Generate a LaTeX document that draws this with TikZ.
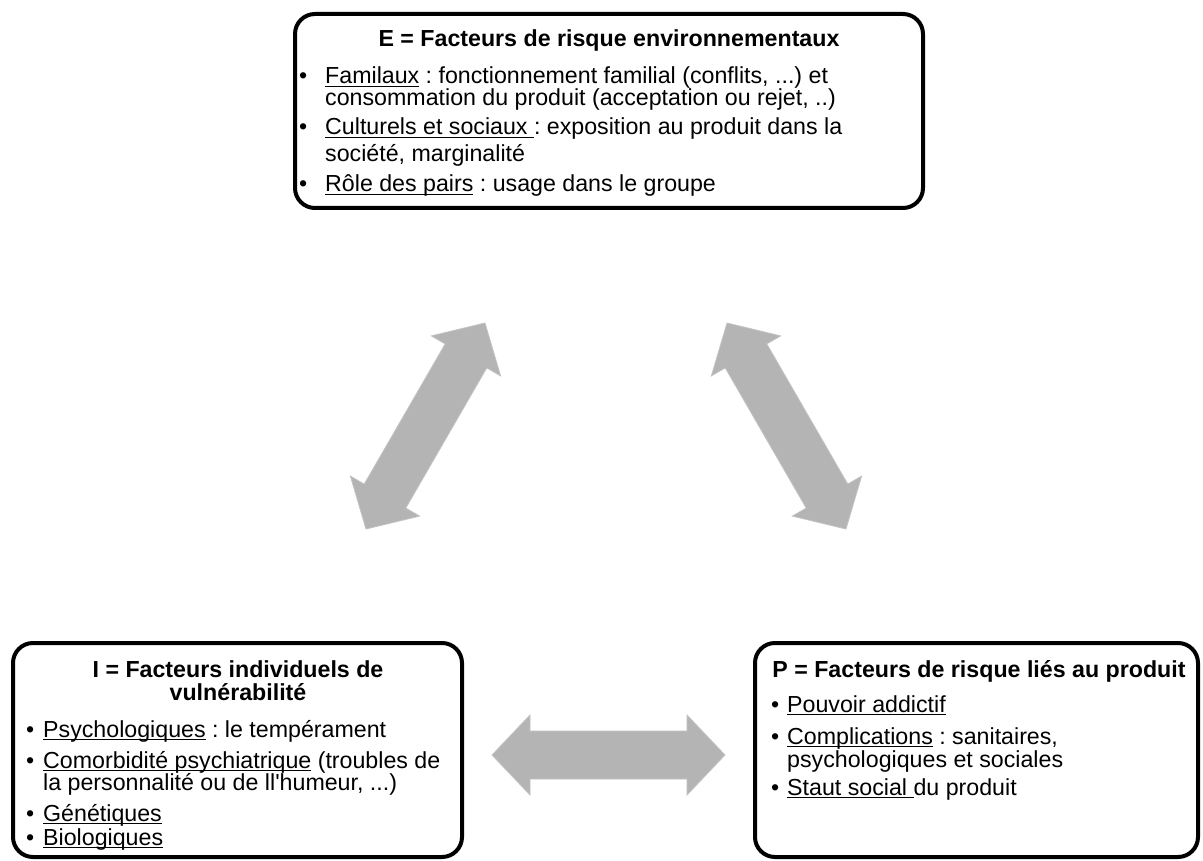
\documentclass[tikz,border=0pt]{standalone}
\usepackage{fontspec}
\setmainfont{Liberation Sans}
\frenchspacing
\newcommand\myul[1]{\setbox0\hbox{#1}\rlap{\rule[-3pt]{\wd0}{1.2pt}}\box0\relax}
\newcommand\bfont{\fontsize{23.2}{23.2}\selectfont}
\definecolor{arrgray}{HTML}{B4B4B4}
\tikzset{
  box/.style={draw=black, line width=4pt, rounded corners=20pt, fill=white, inner sep=0pt},
  ttl/.style={anchor=base, inner sep=0pt, font=\bfont\bfseries},
  ln/.style={anchor=base west, inner sep=0pt, font=\bfont},
  arr/.style={fill=arrgray, draw=arrgray!80, line width=0.8pt, line join=miter}
}
\newcommand\blockarrow[3]{%
  \fill[arr, shift={(#1)}, rotate=#2] (0,0) -- (38,40) -- (38,24) -- ({#3-38},24) -- ({#3-38},40) -- (#3,0) -- ({#3-38},-40) -- ({#3-38},-24) -- (38,-24) -- (38,-40) -- cycle;}
\begin{document}
\begin{tikzpicture}[x=1pt,y=1pt]
\path[use as bounding box, fill=white] (0,0) rectangle (1203,-861);

% boxes
\node[box, minimum width=628pt, minimum height=194pt] (E) at (609,-111) {};
\node[box, minimum width=449pt, minimum height=214pt] (I) at (237.5,-750) {};
\node[box, minimum width=443pt, minimum height=214pt] (P) at (976.5,-750) {};

% top box text
\node[ttl] (Et) at (609,-47) {E = Facteurs de risque environnementaux};
\node[ln] (E1) at (325,-84) {\llap{\textbullet\hspace{18pt}}\myul{Familaux} : fonctionnement familial (conflits, ...) et};
\node[ln] (E2) at (325,-106) {consommation du produit (acceptation ou rejet, ..)};
\node[ln] (E3) at (325,-135) {\llap{\textbullet\hspace{18pt}}\myul{Culturels et sociaux }: exposition au produit dans la};
\node[ln] (E4) at (325,-162) {société, marginalité};
\node[ln] (E5) at (325,-192) {\llap{\textbullet\hspace{18pt}}\myul{Rôle des pairs} : usage dans le groupe};

% bottom-left box text
\node[ttl] (It1) at (238,-677) {I = Facteurs individuels de};
\node[ttl] (It2) at (238,-700) {vulnérabilité};
\node[ln] (I1) at (43,-737) {\llap{\textbullet\hspace{9pt}}\myul{Psychologiques} : le tempérament};
\node[ln] (I2) at (43,-768) {\llap{\textbullet\hspace{9pt}}\myul{Comorbidité psychiatrique} (troubles de};
\node[ln] (I3) at (43,-790) {la personnalité ou de ll\textquotesingle humeur, ...)};
\node[ln] (I4) at (43,-821) {\llap{\textbullet\hspace{9pt}}\myul{Génétiques}};
\node[ln] (I5) at (43,-845) {\llap{\textbullet\hspace{9pt}}\myul{Biologiques}};

% bottom-right box text
\node[ttl] (Pt) at (979,-677) {P = Facteurs de risque liés au produit};
\node[ln] (P1) at (787,-712) {\llap{\textbullet\hspace{8pt}}\myul{Pouvoir addictif}};
\node[ln] (P2) at (787,-744) {\llap{\textbullet\hspace{8pt}}\myul{Complications} : sanitaires,};
\node[ln] (P3) at (787,-767) {psychologiques et sociales};
\node[ln] (P4) at (787,-795) {\llap{\textbullet\hspace{8pt}}\myul{Staut social }du produit};

% block arrows
\coordinate (a1) at (366,-529);
\coordinate (b1) at (485,-323);
\coordinate (a2) at (727,-323);
\coordinate (b2) at (846,-529);
\coordinate (a3) at (492,-755);
\coordinate (b3) at (725,-755);
\blockarrow{a1}{59.99}{237.9}
\blockarrow{a2}{-59.99}{237.9}
\blockarrow{a3}{0}{233}
\end{tikzpicture}
\end{document}
